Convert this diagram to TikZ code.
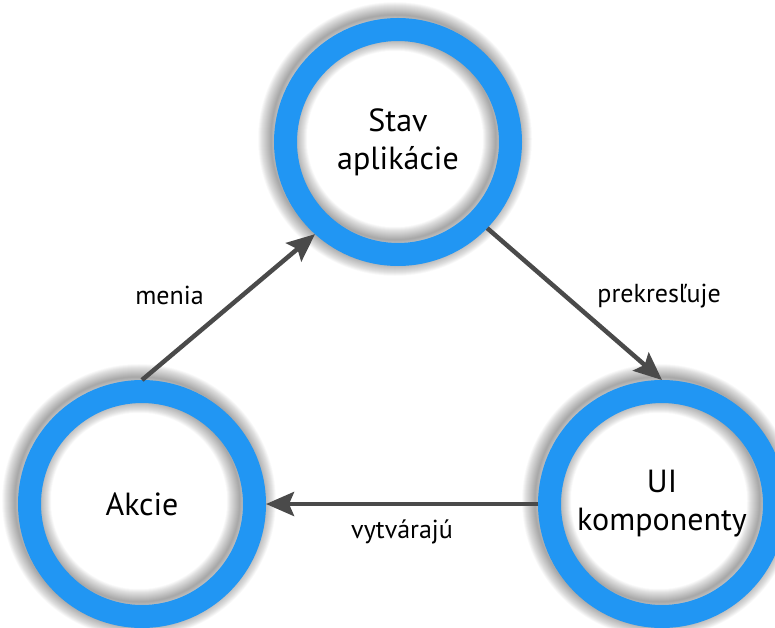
\documentclass[tikz,border=0pt]{standalone}
\usepackage{fontspec}
\setmainfont{PT Sans}
\usetikzlibrary{arrows.meta,positioning,backgrounds}
\definecolor{ringblue}{HTML}{2196F3}
\definecolor{arrowgray}{HTML}{4A4A4A}

\begin{document}
\begin{tikzpicture}[
  x=1bp, y=-1bp,
  state/.style={circle, draw=ringblue, line width=23bp, minimum size=225bp,
                inner sep=0pt, align=center, font=\fontsize{32bp}{38bp}\selectfont},
  ar/.style={draw=arrowgray, line width=4.5bp,
             -{Stealth[length=28bp,width=24bp,inset=5bp]}},
  lbl/.style={font=\fontsize{26bp}{30bp}\selectfont}
]
\path[use as bounding box, clip] (0,0) rectangle (775,628);

\node[state] (stav)  at (398,142) {Stav\\aplikácie};
\node[state] (akcie) at (142,504) {Akcie};
\node[state] (ui)    at (662,504) {UI\\komponenty};

% soft shadow on both sides of each ring, a little up and left
\begin{scope}[on background layer]
  \clip (0,0) rectangle (775,628);
  \foreach \n in {stav,akcie,ui} {
    \foreach \w in {1,...,26} {
      \draw[black, draw opacity=0.017, line width=\w bp]
        ([shift={(-3,-3)}]\n.center) circle[radius=124bp];
      \draw[black, draw opacity=0.017, line width=\w bp]
        ([shift={(-3,-3)}]\n.center) circle[radius=101bp];
    }
  }
\end{scope}

\draw[ar] (akcie.north) -- node[lbl, pos=0.58, left=33bp] {menia} (stav.228);
\draw[ar] (stav.-44) -- node[lbl, pos=0.45, right=26bp] {prekresľuje} (ui.north);
\draw[ar] (ui.west) -- node[lbl, below=10bp] {vytvárajú} (akcie.east);
\end{tikzpicture}
\end{document}
